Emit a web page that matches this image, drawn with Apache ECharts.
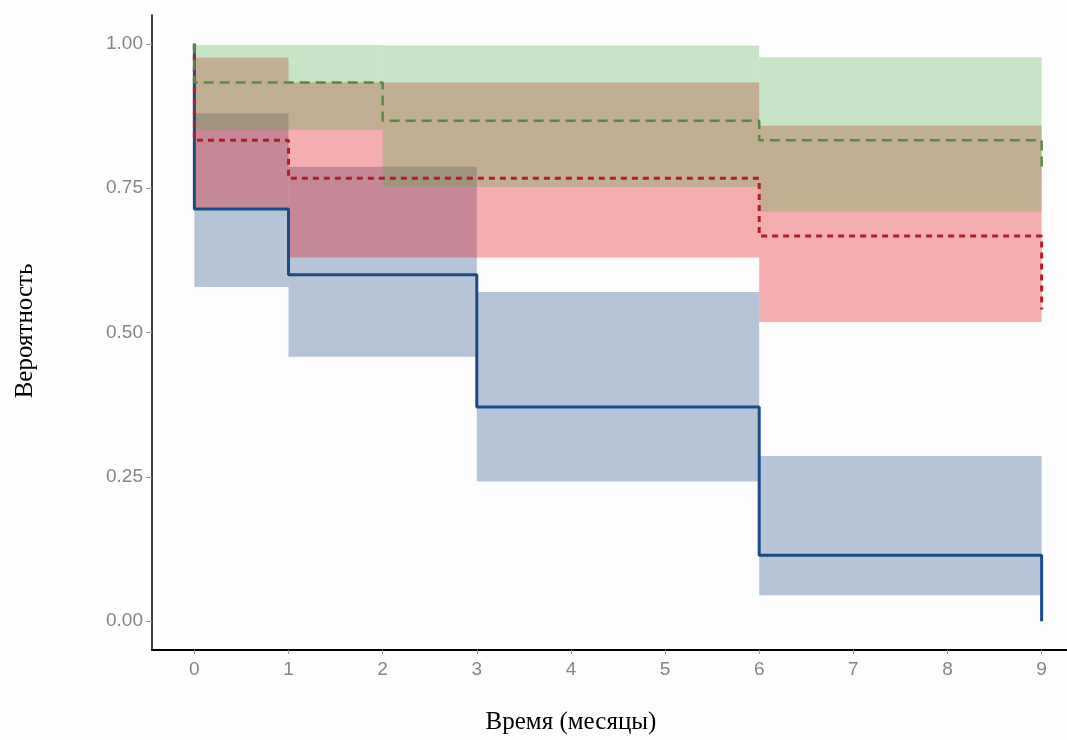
<!DOCTYPE html>
<html>
<head>
<meta charset="utf-8">
<script src="https://cdn.jsdelivr.net/npm/echarts@6.0.0/dist/echarts.min.js"></script>
<style>
  html, body { margin: 0; padding: 0; background: #fdfdfd; }
  #chart { width: 1067px; height: 740px; }
</style>
</head>
<body>
<div id="chart"></div>
<script>
// ось времени и вероятности
const timeTicks = [0, 1, 2, 3, 4, 5, 6, 7, 8, 9];
const probTicks = [0, 0.25, 0.5, 0.75, 1];

// группа 1 (синяя)
const blueTime = [0, 1, 3, 6, 9];
const blueSurv = [0.714, 0.600, 0.371, 0.114, 0];
const blueUpper = [0.880, 0.787, 0.570, 0.286];
const blueLower = [0.579, 0.458, 0.242, 0.045];

// группа 2 (красная)
const redTime = [0, 1, 6, 9];
const redSurv = [0.833, 0.767, 0.667, 0.540];
const redUpper = [0.976, 0.933, 0.858];
const redLower = [0.715, 0.630, 0.518];

// группа 3 (зелёная)
const greenTime = [0, 2, 6, 9];
const greenSurv = [0.933, 0.867, 0.833, 0.778];
const greenUpper = [0.998, 0.997, 0.977];
const greenLower = [0.851, 0.752, 0.709];

function steps(time, surv) {
    return [[0, 1]].concat(time.map((t, i) => [t, surv[i]]));
}
function bands(time, lo, hi) {
    return lo.map((l, i) => [time[i], time[i + 1], l, hi[i]]);
}
function bandRenderer(color) {
    return function (params, api) {
        const a = api.coord([api.value(0), api.value(3)]);
        const b = api.coord([api.value(1), api.value(2)]);
        return {
            type: 'rect',
            shape: { x: a[0], y: a[1], width: b[0] - a[0], height: b[1] - a[1] },
            style: { fill: color }
        };
    };
}
function band(data, color) {
    return {
        type: 'custom',
        renderItem: bandRenderer(color),
        encode: { x: [0, 1], y: [2, 3] },
        data: data,
        silent: true
    };
}
function line(data, color, width, dash) {
    return {
        type: 'line',
        step: 'end',
        symbol: 'none',
        data: data,
        lineStyle: { color: color, width: width, type: dash },
        silent: true
    };
}

const myChart = echarts.init(document.getElementById('chart'));
const tickFont = { color: '#858585', fontSize: 19, fontFamily: 'Liberation Sans' };

const option = {
    backgroundColor: '#fdfdfd',
    animation: false,
    grid: { left: 152, top: 15, width: 932, height: 635, outerBoundsMode: 'none' },
    xAxis: {
        type: 'value',
        min: -0.45,
        max: 9.45,
        splitLine: { show: false },
        axisLine: { show: true, onZero: false, lineStyle: { color: '#000', width: 2 } },
        axisTick: { show: true, length: 4, customValues: timeTicks, lineStyle: { color: '#999' } },
        axisLabel: Object.assign({ customValues: timeTicks, margin: 10 }, tickFont)
    },
    yAxis: {
        type: 'value',
        min: -0.05,
        max: 1.05,
        splitLine: { show: false },
        axisLine: { show: true, onZero: false, lineStyle: { color: '#000', width: 1.5 } },
        axisTick: { show: true, length: 6, customValues: probTicks, lineStyle: { color: '#999' } },
        axisLabel: Object.assign({
            customValues: probTicks,
            margin: 9,
            formatter: v => v.toFixed(2)
        }, tickFont)
    },
    graphic: [
        {
            type: 'text', x: 25, y: 331, rotation: Math.PI / 2,
            style: {
                text: 'Вероятность', fill: '#000', font: '25px "Liberation Serif"',
                textAlign: 'center', textVerticalAlign: 'middle'
            }
        },
        {
            type: 'text', x: 571, y: 722,
            style: {
                text: 'Время (месяцы)', fill: '#000', font: '25px "Liberation Serif"',
                textAlign: 'center', textVerticalAlign: 'middle'
            }
        }
    ],
    series: [
        band(bands(blueTime, blueLower, blueUpper), 'rgba(31,78,138,0.32)'),
        band(bands(redTime, redLower, redUpper), 'rgba(228,26,28,0.35)'),
        band(bands(greenTime, greenLower, greenUpper), 'rgba(77,175,74,0.3)'),
        line(steps(blueTime, blueSurv), '#1b4a87', 3, 'solid'),
        line(steps(redTime, redSurv), '#b01e28', 3, [6, 5]),
        line(steps(greenTime, greenSurv), '#5a8a40', 2.5, [10, 6])
    ]
};
myChart.setOption(option);
window.addEventListener('resize', () => myChart.resize());
</script>
</body>
</html>
